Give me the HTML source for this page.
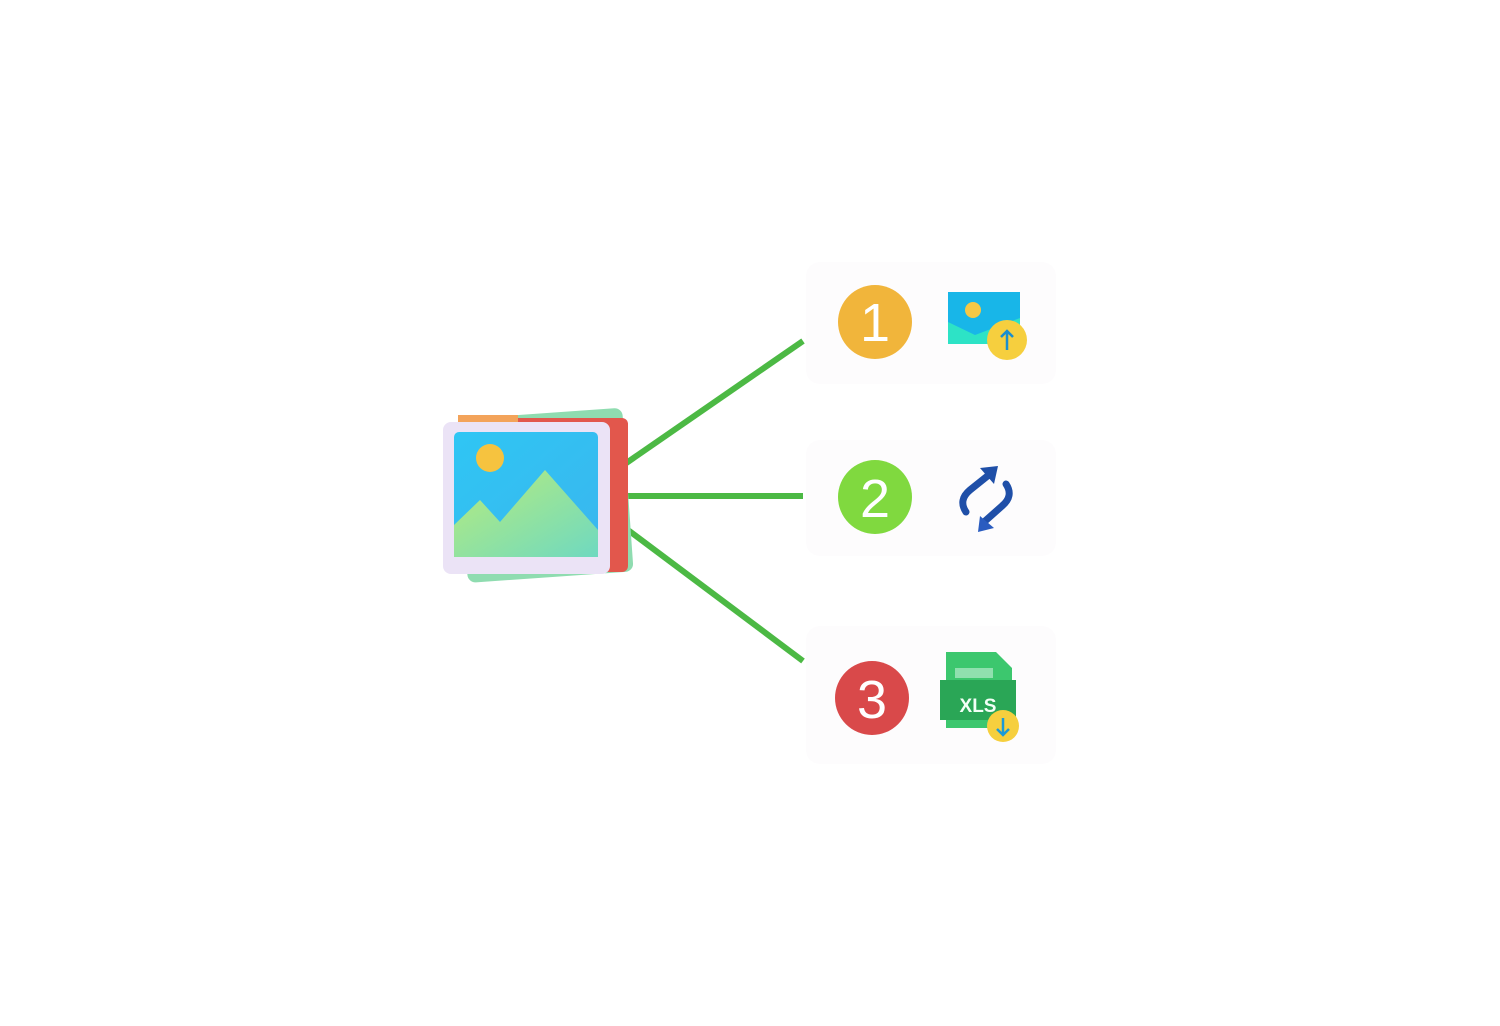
<!DOCTYPE html>
<html><head><meta charset="utf-8"><style>html,body{margin:0;padding:0;background:#fff;}svg{display:block}</style></head>
<body>
<svg width="1500" height="1026" viewBox="0 0 1500 1026" xmlns="http://www.w3.org/2000/svg">
<defs>
<linearGradient id="sky" x1="0" y1="0" x2="1" y2="1"><stop offset="0" stop-color="#2fc6f4"/><stop offset="1" stop-color="#3ab6ee"/></linearGradient>
<linearGradient id="mt" x1="0" y1="0" x2="1" y2="1"><stop offset="0" stop-color="#b8ec7c"/><stop offset="1" stop-color="#6fd9c0"/></linearGradient>
</defs>
<rect x="806" y="262" width="250" height="122" rx="14" fill="#fdfcfd"/>
<rect x="806" y="440" width="250" height="116" rx="14" fill="#fdfcfd"/>
<rect x="806" y="626" width="250" height="138" rx="14" fill="#fdfcfd"/>
<g stroke="#4cb944" stroke-width="6" fill="none">
<line x1="622" y1="466" x2="803" y2="341"/>
<line x1="624" y1="496" x2="803" y2="496"/>
<line x1="628" y1="530" x2="803" y2="661"/>
</g>
<!-- central icon -->
<g transform="rotate(-4 535 495)"><rect x="462" y="414" width="166" height="164" rx="8" fill="#8fdcb0"/></g>
<rect x="460" y="418" width="168" height="154" rx="6" fill="#e2574c"/>
<rect x="458" y="415" width="60" height="8" fill="#f3a35a"/>
<rect x="443" y="422" width="167" height="152" rx="8" fill="#ebe3f6"/>
<rect x="454" y="432" width="144" height="125" rx="5" fill="url(#sky)"/>
<circle cx="490" cy="458" r="14" fill="#f6c33f"/>
<path d="M454 525 L480 500 L500 522 L545 470 L598 530 L598 557 L454 557 Z" fill="url(#mt)"/>
<!-- circles -->
<circle cx="875" cy="322" r="37" fill="#f1b53b"/>
<text x="875" y="341" font-family="Liberation Sans, sans-serif" font-size="54" fill="#fff" text-anchor="middle">1</text>
<circle cx="875" cy="497" r="37" fill="#80d93f"/>
<text x="875" y="517" font-family="Liberation Sans, sans-serif" font-size="54" fill="#fff" text-anchor="middle">2</text>
<circle cx="872" cy="698" r="37" fill="#d9494a"/>
<text x="872" y="718" font-family="Liberation Sans, sans-serif" font-size="54" fill="#fff" text-anchor="middle">3</text>
<!-- upload image icon -->
<rect x="948" y="292" width="72" height="52" fill="#18b6e8"/>
<path d="M948 322 L975 335 L1020 318 L1020 344 L948 344Z" fill="#2de3c6"/>
<circle cx="973" cy="310" r="8" fill="#f4c845"/>
<circle cx="1007" cy="340" r="20" fill="#f6cf3e"/>
<path d="M1007 350 V332 M1001 337 L1007 331 L1013 337" stroke="#1a8fd0" stroke-width="2.5" fill="none"/>
<!-- refresh -->
<g stroke="#1f4fa8" stroke-width="7" fill="none" stroke-linecap="round">
<path d="M966 512 Q958 500 970 490 L990 474"/>
<path d="M1006 484 Q1014 496 1002 506 L984 522"/>
</g>
<path d="M980 468 L998 466 L994 484Z" fill="#1f4fa8"/>
<path d="M980 516 L978 532 L994 528Z" fill="#2a5cc0"/>
<!-- xls -->
<path d="M946 652 L996 652 L1012 668 L1012 728 L946 728Z" fill="#3cc76e"/>
<rect x="940" y="680" width="76" height="40" fill="#2aa656"/>
<rect x="955" y="668" width="38" height="10" fill="#8fe0ae"/>
<text x="978" y="712" font-family="Liberation Sans, sans-serif" font-weight="bold" font-size="19" fill="#f2fff6" text-anchor="middle">XLS</text>
<circle cx="1003" cy="726" r="16" fill="#f6cf3e"/>
<path d="M1003 718 V734 M997 729 L1003 735 L1009 729" stroke="#1a9ad8" stroke-width="2.5" fill="none"/>
</svg>
</body></html>
